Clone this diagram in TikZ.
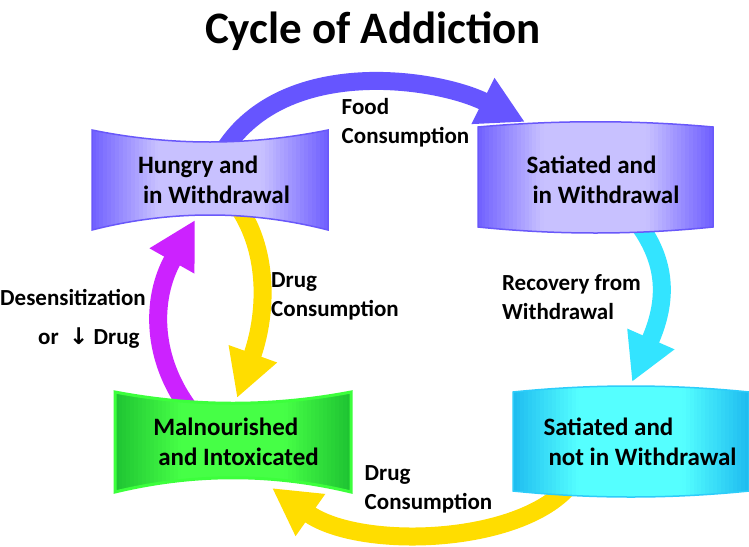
\documentclass[tikz,border=0pt]{standalone}
\usepackage{fontspec}
\setmainfont{Carlito}
\newfontfamily\symfont{DejaVu Sans}
\usetikzlibrary{arrows.meta}
\definecolor{pedge}{RGB}{112,96,255}
\definecolor{pmid}{RGB}{200,193,255}
\definecolor{pline}{RGB}{105,88,250}
\definecolor{cedge}{RGB}{30,188,240}
\definecolor{cmid}{RGB}{85,255,255}
\definecolor{cline}{RGB}{45,205,250}
\definecolor{gedge}{RGB}{30,195,50}
\definecolor{gmid}{RGB}{70,255,70}
\definecolor{gline}{RGB}{60,255,60}
\definecolor{parrow}{RGB}{102,85,255}
\definecolor{carrow}{RGB}{51,228,255}
\definecolor{yarrow}{RGB}{255,221,0}
\definecolor{marrow}{RGB}{204,34,255}
% #1 path, #2 left x, #3 right x, #4 edge colour, #5 middle colour, #6 border style
\newcommand\gradbox[6]{%
  \begin{scope}
    \clip #1;
    \foreach \gi in {0,...,59}{%
      \pgfmathsetmacro\gpos{(\gi+0.5)/60}%
      \pgfmathtruncatemacro\gmix{100*min(1,min(\gpos,1-\gpos)/0.28)}%
      \pgfmathsetmacro\gxl{#2+\gi*(#3-#2)/60}%
      \pgfmathsetmacro\gxr{#2+(\gi+1)*(#3-#2)/60}%
      \fill[#5!\gmix!#4] (\gxl-0.4,0) rectangle (\gxr+0.4,546);
    }
  \end{scope}
  \draw[#6] #1;}
\begin{document}
\begin{tikzpicture}[x=1pt,y=-1pt,
  arr/.style={line width=18pt,-{Triangle[length=47pt,width=48pt]}},
  boxtxt/.style={align=left,inner sep=0pt,font=\fontsize{25}{30}\selectfont\bfseries},
  lbl/.style={align=left,inner sep=0pt,font=\fontsize{23}{29}\selectfont\bfseries},
  pline/.style={draw=pline,line width=1.5pt},
  cline/.style={draw=cline,line width=1.5pt},
  gline/.style={draw=gline,line width=3pt}]
\fill[white] (0,0) rectangle (749,546);
\useasboundingbox (0,0) rectangle (749,546);

% arrow end points
\coordinate (pS) at (224,150);
\coordinate (pE) at (525,122);
\coordinate (cS) at (637,222);
\coordinate (cE) at (632,382);
\coordinate (yS) at (570,485);
\coordinate (yE) at (272,488);
\coordinate (dS) at (237,205);
\coordinate (dE) at (237,398);
\coordinate (mS) at (190,410);
\coordinate (mE) at (195,220);

% arrows
\draw[arr,parrow] (pS) .. controls (285,55) and (437,78) .. (pE);
\draw[arr,carrow] (cS) .. controls (667,262) and (668,300) .. (cE);
\draw[arr,yarrow] (yS) .. controls (520,545) and (360,550) .. (yE);
\draw[arr,yarrow] (dS) .. controls (272,255) and (265,320) .. (dE);
\draw[arr,marrow] (mS) .. controls (152,360) and (150,300) .. (mE);

% boxes
\gradbox{(92,130) .. controls (170,146) and (250,146) .. (328,130) -- (328,230) .. controls (250,210) and (170,210) .. (92,230) -- cycle}{92}{328}{pedge}{pmid}{pline}
\gradbox{(478,127) .. controls (556,120) and (635,120) .. (713,127) -- (713,227) .. controls (635,235) and (556,235) .. (478,227) -- cycle}{478}{713}{pedge}{pmid}{pline}
\gradbox{(513,392) .. controls (592,384) and (670,384) .. (749,392) -- (749,491) .. controls (670,499) and (592,499) .. (513,491) -- cycle}{513}{749}{cedge}{cmid}{cline}
\gradbox{(115,392) .. controls (194,407) and (272,407) .. (351,392) -- (351,492) .. controls (272,473) and (194,473) .. (115,492) -- cycle}{115}{351}{gedge}{gmid}{gline}

% box texts
\node[boxtxt] (hungry) at (214,180) {Hungry and\\\hspace*{5pt}in Withdrawal};
\node[boxtxt] (satw) at (603,180) {Satiated and\\\hspace*{6pt}in Withdrawal};
\node[boxtxt] (satnw) at (640,442) {Satiated and\\\hspace*{5pt}not in Withdrawal};
\node[boxtxt] (mal) at (236,442) {Malnourished\\\hspace*{5pt}and Intoxicated};

% labels
\node[font=\fontsize{45}{54}\selectfont\bfseries,inner sep=0pt] (title) at (373,31) {Cycle of Addiction};
\node[lbl] (food) at (405.5,123) {Food\\Consumption};
\node[lbl] (drug1) at (335,296) {Drug\\Consumption};
\node[lbl] (recov) at (571.5,297.5) {Recovery from\\Withdrawal};
\node[lbl,anchor=west] (desens) at (0,318.5) {Desensitization\\[10pt]\hspace*{38pt}or \ {\symfont ↓}\ Drug};
\node[lbl] (drug2) at (428.5,489) {Drug\\Consumption};
\end{tikzpicture}
\end{document}
